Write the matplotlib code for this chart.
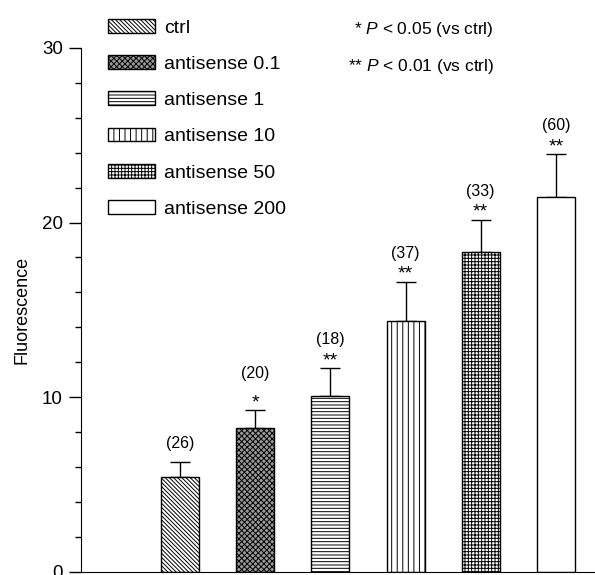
import numpy as np
import matplotlib.pyplot as plt

plt.rcParams['font.family'] = ['Liberation Sans', 'DejaVu Sans']
plt.rcParams['mathtext.fontset'] = 'custom'
plt.rcParams['mathtext.rm'] = 'Liberation Sans'
plt.rcParams['mathtext.it'] = 'Liberation Sans:italic'
plt.rcParams['hatch.linewidth'] = 0.7

# data
groups = ["ctrl", "antisense 0.1", "antisense 1", "antisense 10", "antisense 50", "antisense 200"]
means = [5.45, 8.25, 10.05, 14.35, 18.3, 21.45]
sem = [0.82, 1.01, 1.62, 2.27, 1.87, 2.48]
n_cells = ["(26)", "(20)", "(18)", "(37)", "(33)", "(60)"]
stars = ["", "*", "**", "**", "**", "**"]

HATCHES = ['\\\\\\\\\\\\\\\\', 'xxxxxx', '-----', '|||', '+++++', '']
FACES = ['white', '#9a9a9a', 'white', 'white', 'white', 'white']

fig = plt.figure(figsize=(5.95, 5.75), dpi=100)
ax = fig.add_axes([0.136, 0.0057, 0.864, 0.911])

x = np.arange(len(groups))
bars = ax.bar(x, means, width=0.505, color=FACES, edgecolor='black',
              linewidth=1.0, hatch=HATCHES, label=groups, zorder=2)
ax.errorbar(x, means, yerr=[np.zeros(len(sem)), sem], fmt='none',
            ecolor='black', elinewidth=1.0, capsize=7.5, capthick=1.0, zorder=1)

for i in range(len(groups)):
    top = means[i] + sem[i]
    if stars[i]:
        ax.annotate(stars[i], (x[i], top), xytext=(0, -1), textcoords='offset points',
                    ha='center', va='bottom', fontsize=14)
        ax.annotate(n_cells[i], (x[i], top), xytext=(0, 15 if stars[i] == "**" else 21),
                    textcoords='offset points', ha='center', va='bottom', fontsize=11.5)
    else:
        ax.annotate(n_cells[i], (x[i], top), xytext=(0, 8), textcoords='offset points',
                    ha='center', va='bottom', fontsize=11.5)

ax.set_xlim(-1.317, 5.52)
ax.set_ylim(0, 30)
ax.set_yticks([0, 10, 20, 30])
ax.set_yticks(np.arange(0, 31, 2), minor=True)
ax.set_xticks([])
ax.tick_params(axis='y', which='major', direction='out', length=9, width=1, labelsize=13.5, pad=4)
ax.tick_params(axis='y', which='minor', direction='out', length=4, width=1)
ax.spines['top'].set_visible(False)
ax.spines['right'].set_visible(False)
ax.set_ylabel("Fluorescence", fontsize=13, labelpad=8)

fig.legend(handles=bars.patches, labels=groups, loc='upper left',
           bbox_to_anchor=(0.1815, 0.967), frameon=False, fontsize=14,
           handlelength=2.4, handleheight=0.72, handletextpad=0.5,
           labelspacing=0.95, borderpad=0, borderaxespad=0)

fig.text(0.83, 0.948, "* $\\it{P}$ < 0.05 (vs ctrl)", ha='right', va='center', fontsize=12.5)
fig.text(0.83, 0.884, "** $\\it{P}$ < 0.01 (vs ctrl)", ha='right', va='center', fontsize=12.5)

plt.savefig("out.png", dpi=100)
